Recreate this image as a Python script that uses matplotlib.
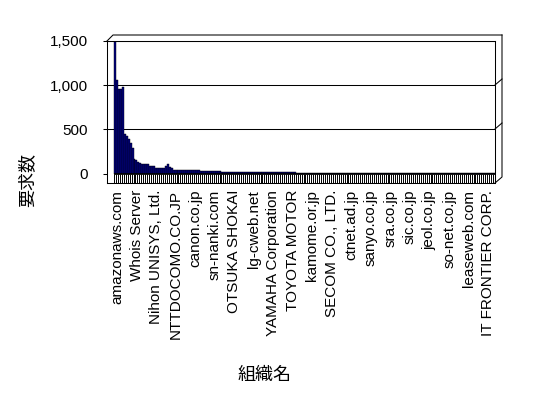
import numpy as np
import matplotlib
matplotlib.use('Agg')
import matplotlib.pyplot as plt
from matplotlib.lines import Line2D
from matplotlib.transforms import ScaledTranslation

# request counts per organisation, sorted
counts = [
    1500, 1055, 960, 955, 975, 450, 430, 395, 340, 285,
    165, 148, 128, 118, 112, 106, 104, 102, 90, 87,
    85, 66, 64, 64, 63, 63, 80, 106, 70, 60,
    42, 41, 41, 40, 40, 40, 40, 39, 39, 39,
    39, 38, 34, 34, 33, 33, 33, 32, 32, 32,
    31, 27, 27, 26, 26, 22, 22, 21, 21, 21,
    18, 18, 18, 18, 17, 17, 17, 17, 17, 16,
    16, 16, 13, 13, 13, 12, 12, 12, 12, 12,
    12, 12, 12, 14, 14, 14, 14, 14, 14, 14,
    14, 14, 13, 11, 11, 11, 11, 11, 11, 11,
    11, 11, 11, 11, 10, 10, 10, 10, 10, 10,
    10, 10, 10, 10, 10, 10, 10, 10, 10, 10,
    9, 9, 9, 9, 9, 9, 9, 9, 9, 9,
    9, 9, 9, 9, 9, 8, 8, 8, 8, 8,
    8, 8, 8, 8, 8, 8, 8, 8, 8, 8,
    8, 8, 6, 6, 6, 6, 6, 6, 6, 6,
    6, 6, 6, 6, 6, 6, 5, 5, 5, 5,
    5, 5, 5, 5, 5, 5, 5, 5, 5, 5,
    5, 5, 5, 5, 5, 5, 4, 4, 4, 4,
    4, 4, 4, 4, 4,
]

# only every 10th organisation is labelled on the axis
label_names = [
    "amazonaws.com", "Whois Server", "Nihon UNISYS, Ltd.", "NTTDOCOMO.CO.JP",
    "canon.co.jp", "sn-nanki.com", "OTSUKA SHOKAI", "lg-cweb.net",
    "YAMAHA Corporation", "TOYOTA MOTOR", "kamome.or.jp", "SECOM CO., LTD.",
    "ctnet.ad.jp", "sanyo.co.jp", "sra.co.jp", "sic.co.jp", "jeol.co.jp",
    "so-net.co.jp", "leaseweb.com", "IT FRONTIER CORP.",
]
label_step = 10
yticks = [0, 500, 1000, 1500]

plt.rcParams['font.family'] = ['Liberation Sans', 'Noto Sans CJK JP']

W, H = 548, 398
fig = plt.figure(figsize=(W / 100, H / 100), dpi=100)
# front face of the plot box, in pixels: x 107..495, y 41..183
ax = fig.add_axes([107 / W, 1 - 183 / H, (495 - 107) / W, (183 - 41) / H])

n = len(counts)
x = np.arange(n)
cat_w = (495 - 114) / n  # pixels per category on the back wall
ax.set_xlim(-0.5 - 7 / cat_w, n - 0.5)
ax.set_ylim(-1500 * 9.5 / 132.5, 1500)

for g in yticks[1:]:
    ax.axhline(g, color='black', lw=0.75, zorder=0)

ax.bar(x, counts, width=1.0, color='#000080', edgecolor='black', linewidth=0.3, zorder=2)

# floor strip under the columns
ax.vlines(np.arange(n + 1) - 0.5, ax.get_ylim()[0], 0, colors='black', lw=0.7, zorder=1)
ax.hlines(0, -0.5, n - 0.5, colors='black', lw=1.2, zorder=3)

ax.set_yticks(yticks)
ax.set_yticklabels(['{:,}'.format(v) for v in yticks])
ax.tick_params(axis='y', length=3, width=0.75, pad=11, labelsize=11)

ax.set_xticks(x[::label_step])
ax.set_xticklabels(label_names, rotation=90, fontsize=11)
ax.tick_params(axis='x', length=0, pad=5)
shift = ScaledTranslation(2 / 100, 0, fig.dpi_scale_trans)
for lab in ax.get_xticklabels():
    lab.set_transform(lab.get_transform() + shift)

for s in ax.spines.values():
    s.set_linewidth(0.75)


def frame_line(xs, ys):
    fig.add_artist(Line2D([v / W for v in xs], [1 - v / H for v in ys],
                          color='black', lw=0.75))


# depth edges of the box
frame_line([107, 113, 502], [41, 35, 35])
frame_line([502, 502, 495], [35, 177, 183])
for gy in [85, 129]:
    frame_line([495, 502], [gy, gy - 6])

fig.text(28 / W, 1 - 180 / H, '要求数', rotation=90, ha='center', va='center', fontsize=13)
fig.text(265 / W, 1 - 375 / H, '組織名', ha='center', va='center', fontsize=13)

fig.savefig('out.png', dpi=100)
